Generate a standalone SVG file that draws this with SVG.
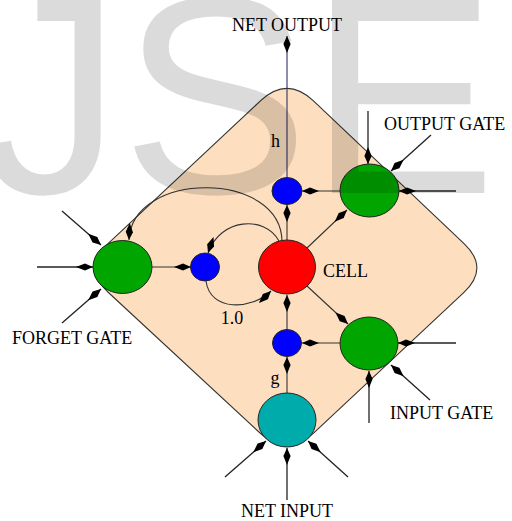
<svg xmlns="http://www.w3.org/2000/svg" width="512" height="521" viewBox="0 0 512 521">
<defs>
<marker id="kite" viewBox="-18 -5 19 10" refX="0" refY="0" markerWidth="19" markerHeight="10" markerUnits="userSpaceOnUse" orient="auto">
<path d="M0,0 L-8,-3.6 L-17,0 L-8,3.6 Z" fill="#000"/>
</marker>
</defs>
<style>
.lbl{font-family:"Liberation Serif","Times New Roman",serif;font-size:18px;fill:#000}
.node{stroke:#222;stroke-width:1}
.edge{fill:none;stroke:#333;stroke-width:1.1;marker-end:url(#kite)}
.ext{fill:none;stroke:#222;stroke-width:1.3;marker-end:url(#kite)}
</style>
<rect width="512" height="521" fill="#fff"/>
<g id="block">
<path d="M313.2,100.7 L463.8,243.3 Q490,268 463.7,292.6 L313.3,433.4 Q287,458 260.6,433.5 L108.4,292.5 Q82,268 108.3,243.4 L260.7,100.6 Q287,76 313.2,100.7 Z" fill="#fddfbf" stroke="#333" stroke-width="1.1"/>
</g>
<g id="connectors">
<line class="edge" x1="287" y1="178" x2="287" y2="36" style="stroke:#303068"/>
<line class="edge" x1="340" y1="191" x2="302" y2="191"/>
<line class="edge" x1="287" y1="240" x2="287" y2="205"/>
<line class="edge" x1="307" y1="248" x2="347" y2="210"/>
<line class="edge" x1="307" y1="286" x2="348" y2="324"/>
<line class="edge" x1="340" y1="343" x2="302" y2="343"/>
<line class="edge" x1="287" y1="330" x2="287" y2="295"/>
<line class="edge" x1="287" y1="393" x2="287" y2="357"/>
<line class="edge" x1="152" y1="267" x2="191" y2="267"/>
<path class="edge" d="M282,242 C282,170 132,170 129,240"/>
<path class="edge" d="M279,241 C265,215 220,218 208,253"/>
<path class="edge" d="M206,281 C210,312 252,310 271,291"/>
<line class="ext" x1="62" y1="211" x2="101" y2="245"/>
<line class="ext" x1="37" y1="267" x2="93" y2="267"/>
<line class="ext" x1="62" y1="323" x2="101" y2="289"/>
<line class="ext" x1="368" y1="111" x2="368" y2="164"/>
<line class="ext" x1="431" y1="135" x2="391" y2="171"/>
<line class="ext" x1="456" y1="191" x2="399" y2="191"/>
<line class="ext" x1="456" y1="343" x2="398" y2="343"/>
<line class="ext" x1="430" y1="400" x2="391" y2="365"/>
<line class="ext" x1="369" y1="423" x2="369" y2="371"/>
<line class="ext" x1="287" y1="500" x2="287" y2="448"/>
<line class="ext" x1="225" y1="477" x2="266" y2="441"/>
<line class="ext" x1="348" y1="477" x2="308" y2="441"/>
</g>
<g id="cell"><ellipse class="node" cx="287" cy="267" rx="28.5" ry="27" fill="#ff0000"/><text class="lbl" x="323" y="277">CELL</text></g>
<g id="forget-gate"><ellipse class="node" cx="122.5" cy="267" rx="29.5" ry="26.5" fill="#00a500"/><text class="lbl" x="12" y="344">FORGET GATE</text></g>
<g id="forget-mult"><ellipse class="node" cx="205" cy="267" rx="14.5" ry="14" fill="#0000ff"/><text class="lbl" x="232" y="324" text-anchor="middle">1.0</text></g>
<g id="output-gate"><ellipse class="node" cx="369.5" cy="190.5" rx="29.5" ry="26.5" fill="#00a500"/><text class="lbl" x="384" y="130">OUTPUT GATE</text></g>
<g id="output-mult"><ellipse class="node" cx="287" cy="191" rx="15" ry="13.5" fill="#0000ff"/><text class="lbl" x="275.5" y="147" text-anchor="middle">h</text></g>
<g id="input-gate"><ellipse class="node" cx="369" cy="343.5" rx="29" ry="26.5" fill="#00a500"/><text class="lbl" x="390" y="419">INPUT GATE</text></g>
<g id="input-mult"><ellipse class="node" cx="287" cy="343" rx="14.5" ry="13.5" fill="#0000ff"/><text class="lbl" x="275" y="384" text-anchor="middle">g</text></g>
<g id="net-input"><ellipse class="node" cx="287" cy="420" rx="29" ry="27" fill="#00abab"/><text class="lbl" x="287" y="517" text-anchor="middle">NET INPUT</text></g>
<g id="net-output"><text class="lbl" x="287" y="31" text-anchor="middle">NET OUTPUT</text></g>
<g id="watermark"><text x="-19" y="193" font-family="Liberation Sans, Arial, sans-serif" font-size="281" fill="#000" fill-opacity="0.14">JSE</text></g>
</svg>
